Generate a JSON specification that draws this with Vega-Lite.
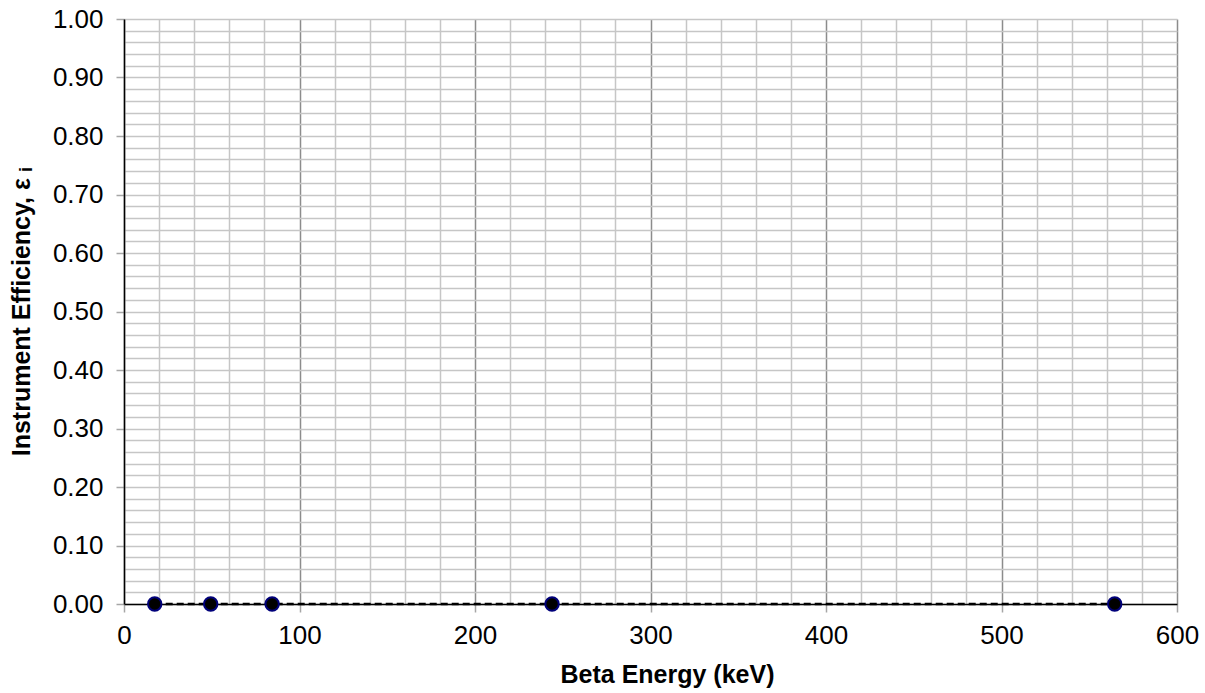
{
  "$schema": "https://vega.github.io/schema/vega-lite/v6.json",
  "width": 1053,
  "height": 585,
  "autosize": "none",
  "padding": {"left": 124, "top": 19, "right": 28, "bottom": 89},
  "background": "white",
  "config": {
    "view": {"stroke": null},
    "font": "Liberation Sans",
    "axis": {
      "labelFont": "Liberation Sans",
      "titleFont": "Liberation Sans",
      "labelFontSize": 26,
      "titleFontSize": 25,
      "titleFontWeight": "bold",
      "labelColor": "black",
      "titleColor": "black",
      "domainColor": "black",
      "domainWidth": 1.5,
      "tickColor": "#a6a6a6",
      "tickWidth": 1.5,
      "tickSize": 8,
      "gridWidth": 1.5,
      "labelOverlap": false,
      "labelFlush": false,
      "labelBound": false
    }
  },
  "data": {
    "values": [
      {"energy": 17.5, "efficiency": 0},
      {"energy": 49.4, "efficiency": 0},
      {"energy": 84.4, "efficiency": 0},
      {"energy": 243.9, "efficiency": 0},
      {"energy": 564.5, "efficiency": 0}
    ]
  },
  "encoding": {
    "x": {
      "field": "energy",
      "type": "quantitative",
      "scale": {"domain": [0, 600], "nice": false, "zero": false},
      "axis": {
        "title": "Beta Energy (keV)",
        "values": [0, 20, 40, 60, 80, 100, 120, 140, 160, 180, 200, 220, 240, 260, 280, 300, 320, 340, 360, 380, 400, 420, 440, 460, 480, 500, 520, 540, 560, 580, 600],
        "format": "d",
        "labelExpr": "datum.value % 100 === 0 ? datum.label : ''",
        "grid": true,
        "gridColor": {"condition": {"test": "datum.value % 100 === 0", "value": "#8c8c8c"}, "value": "#c6c6c6"},
        "tickOpacity": {"condition": {"test": "datum.value % 100 === 0", "value": 1}, "value": 0},
        "labelPadding": 10,
        "titlePadding": 14,
        "titleX": 543
      }
    },
    "y": {
      "field": "efficiency",
      "type": "quantitative",
      "scale": {"domain": [0, 1], "nice": false, "zero": false},
      "axis": {
        "title": "Instrument Efficiency, ε ᵢ",
        "values": [0, 0.02, 0.04, 0.06, 0.08, 0.1, 0.12, 0.14, 0.16, 0.18, 0.2, 0.22, 0.24, 0.26, 0.28, 0.3, 0.32, 0.34, 0.36, 0.38, 0.4, 0.42, 0.44, 0.46, 0.48, 0.5, 0.52, 0.54, 0.56, 0.58, 0.6, 0.62, 0.64, 0.66, 0.68, 0.7, 0.72, 0.74, 0.76, 0.78, 0.8, 0.82, 0.84, 0.86, 0.88, 0.9, 0.92, 0.94, 0.96, 0.98, 1],
        "format": ".2f",
        "labelExpr": "round(datum.value * 50) % 5 === 0 ? datum.label : ''",
        "grid": true,
        "gridColor": "#c6c6c6",
        "tickOpacity": {"condition": {"test": "round(datum.value * 50) % 5 === 0", "value": 1}, "value": 0},
        "labelPadding": 13,
        "titlePadding": 18
      }
    }
  },
  "layer": [
    {
      "mark": {"type": "line", "color": "black", "strokeDash": [7, 4], "strokeWidth": 2.5}
    },
    {
      "mark": {"type": "point", "shape": "circle", "filled": true, "fill": "black", "stroke": "#00007a", "strokeWidth": 2, "size": 180, "opacity": 1}
    }
  ]
}
